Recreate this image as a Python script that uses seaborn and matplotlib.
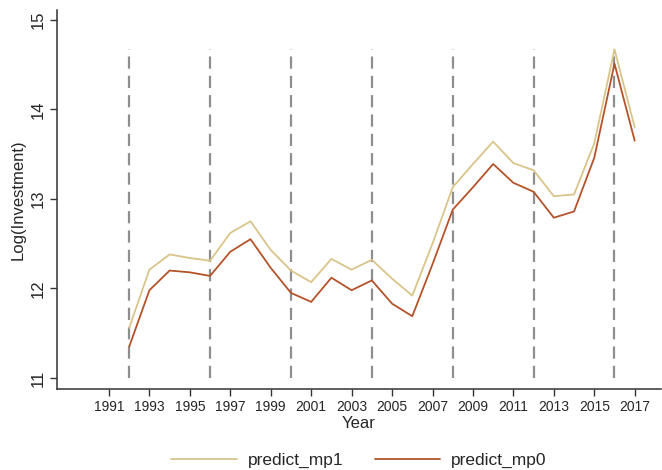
import numpy as np
import pandas as pd
import matplotlib
matplotlib.use("Agg")
import matplotlib.pyplot as plt
import seaborn as sns

# ── Data ─────────────────────────────────────────────────────────────────────
years = list(range(1992, 2018))
predict_mp1 = [11.56, 12.21, 12.38, 12.34, 12.31, 12.62, 12.75, 12.43, 12.20,
               12.07, 12.33, 12.21, 12.32, 12.11, 11.92, 12.50, 13.13, 13.39,
               13.64, 13.40, 13.32, 13.03, 13.05, 13.62, 14.67, 13.80]
predict_mp0 = [11.35, 11.98, 12.20, 12.18, 12.14, 12.41, 12.55, 12.23, 11.95,
               11.85, 12.12, 11.98, 12.09, 11.83, 11.69, 12.27, 12.88, 13.13,
               13.39, 13.18, 13.08, 12.79, 12.86, 13.46, 14.51, 13.65]
break_years = [1992, 1996, 2000, 2004, 2008, 2012, 2016]
x_ticks = list(range(1991, 2018, 2))
y_ticks = [11, 12, 13, 14, 15]

series_names = ["predict_mp1", "predict_mp0"]
colors = {"predict_mp1": "#D9C48A", "predict_mp0": "#B4532A"}

df = pd.DataFrame({
    "year": years * 2,
    "value": predict_mp1 + predict_mp0,
    "series": ["predict_mp1"] * len(years) + ["predict_mp0"] * len(years),
})

# ── Plot ─────────────────────────────────────────────────────────────────────
sns.set_style("white")
plt.rcParams["font.family"] = ["Liberation Sans", "DejaVu Sans"]

fig = plt.figure(figsize=(6.62, 4.70), dpi=100)
ax = fig.add_axes([57 / 662, 1 - 389 / 470, (661 - 57) / 662, (389 - 10) / 470])

ax.vlines(break_years, min(y_ticks), max(predict_mp1), colors="#8E8E8E",
          linestyles=(0, (5.5, 3.2)), linewidth=1.6, zorder=1)

sns.lineplot(data=df, x="year", y="value", hue="series", hue_order=series_names,
             palette=colors, linewidth=1.3, ax=ax, zorder=3)

ax.set_xlim(1988.43, 2018.3)
ax.set_ylim(10.877, 15.11)
ax.set_xticks(x_ticks)
ax.set_xticklabels([str(y) for y in x_ticks], fontsize=10)
ax.set_yticks(y_ticks)
ax.set_yticklabels([str(y) for y in y_ticks], fontsize=12, rotation=90, va="center")
ax.tick_params(axis="both", direction="out", length=5, width=1, color="#333333",
               bottom=True, left=True, pad=3)
ax.set_xlabel("Year", fontsize=12, labelpad=1)
ax.set_ylabel("Log(Investment)", fontsize=12, labelpad=4)

for side in ["top", "right"]:
    ax.spines[side].set_visible(False)
for side in ["left", "bottom"]:
    ax.spines[side].set_color("#333333")
    ax.spines[side].set_linewidth(1.1)

ax.legend(loc="upper center", bbox_to_anchor=(0.5, -0.150), ncol=2,
          frameon=False, fontsize=12.5, handlelength=3.75, columnspacing=1.8,
          handletextpad=0.65, borderaxespad=0)

plt.savefig("out.png", dpi=100)
